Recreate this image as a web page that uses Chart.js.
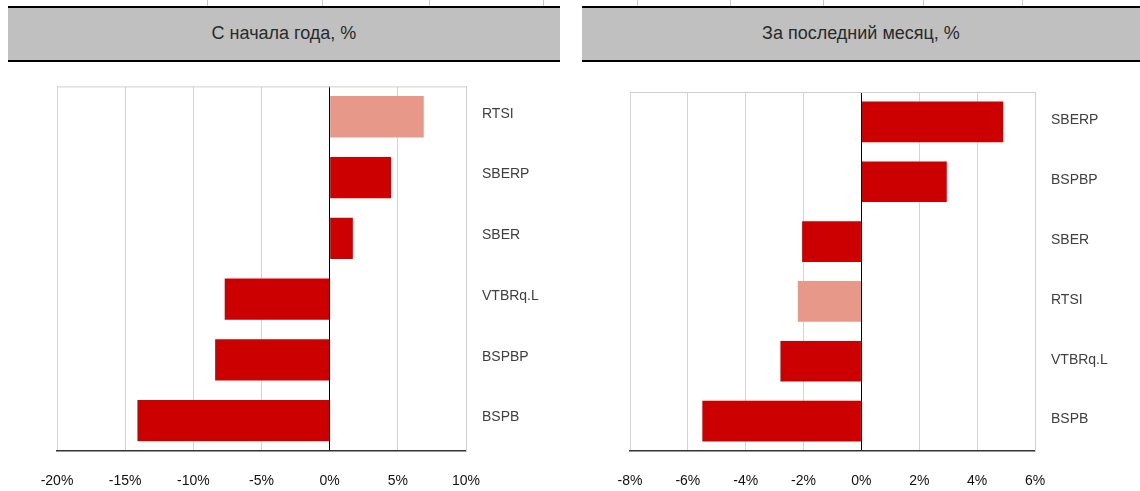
<!DOCTYPE html>
<html>
<head>
<meta charset="utf-8">
<script src="https://cdn.jsdelivr.net/npm/chart.js@4/dist/chart.umd.min.js"></script>
<style>
  body { margin: 0; background: #fff; width: 1140px; height: 491px; position: relative; overflow: hidden; font-family: "Liberation Sans", Arial, sans-serif; }
  .head { position: absolute; top: 6px; height: 52px; background: #c0c0c0; border-top: 2px solid #000; border-bottom: 2px solid #000;
          color: #2a2a2a; font-size: 18px; line-height: 50px; text-align: center; }
  .tick { position: absolute; top: 0; width: 1px; height: 6px; background: #c8c8c8; }
  .box { position: absolute; top: 62px; width: 570px; height: 429px; }
</style>
</head>
<body>
<div class="head" style="left:8px; width:552px;">С начала года, %</div>
<div class="head" style="left:582px; width:558px;">За последний месяц, %</div>
<div class="tick" style="left:207px"></div>
<div class="tick" style="left:322px"></div>
<div class="tick" style="left:429px"></div>
<div class="tick" style="left:543px"></div>
<div class="tick" style="left:637px"></div>
<div class="tick" style="left:730px"></div>
<div class="tick" style="left:823px"></div>
<div class="tick" style="left:923px"></div>
<div class="tick" style="left:1022px"></div>
<div class="box" style="left:0"><canvas id="ytd"></canvas></div>
<div class="box" style="left:570px"><canvas id="mtd"></canvas></div>
<script>
const ytdLabels = ["RTSI", "SBERP", "SBER", "VTBRq.L", "BSPBP", "BSPB"];
const ytdValues = [6.9, 4.5, 1.7, -7.7, -8.4, -14.1];
const ytdTicks = [-20, -15, -10, -5, 0, 5, 10];

const mtdLabels = ["SBERP", "BSPBP", "SBER", "RTSI", "VTBRq.L", "BSPB"];
const mtdValues = [4.9, 2.95, -2.05, -2.2, -2.8, -5.5];
const mtdTicks = [-8, -6, -4, -2, 0, 2, 4, 6];

const indexName = "RTSI";
const dark = "#cc0000";
const light = "#e89888";

// thin grey line on top of the plot area
const topBorder = {
  id: "topBorder",
  afterDraw(chart) {
    const { ctx, chartArea } = chart;
    ctx.save();
    ctx.strokeStyle = "#d0d0d0";
    ctx.lineWidth = 1;
    ctx.beginPath();
    ctx.moveTo(chartArea.left, chartArea.top + 0.5);
    ctx.lineTo(chartArea.right, chartArea.top + 0.5);
    ctx.stroke();
    ctx.restore();
  }
};

function makeChart(id, labels, values, ticks, padTop, padLeft, yWidth, lblShift) {
  const ctx = document.getElementById(id).getContext("2d");
  return new Chart(ctx, {
    type: "bar",
    data: {
      labels: labels,
      datasets: [{
        data: values,
        backgroundColor: labels.map(l => l === indexName ? light : dark),
        borderWidth: 0,
        categoryPercentage: 1,
        barPercentage: 0.68
      }]
    },
    options: {
      indexAxis: "y",
      responsive: true,
      maintainAspectRatio: false,
      animation: false,
      layout: { padding: { top: padTop, left: padLeft, right: 0, bottom: 0 } },
      plugins: { legend: { display: false }, tooltip: { enabled: false } },
      scales: {
        x: {
          min: ticks[0],
          max: ticks[ticks.length - 1],
          afterBuildTicks: axis => { axis.ticks = ticks.map(v => ({ value: v })); },
          afterFit: axis => { axis.height = 40; },
          grid: {
            drawTicks: false,
            color: c => c.tick && c.tick.value === 0 ? "#000" : "#d4d4d4"
          },
          border: { color: "#333", width: 1.5 },
          ticks: {
            padding: 22,
            color: "#111",
            font: { family: "Liberation Sans", size: 14 },
            callback: v => v + "%"
          }
        },
        y: {
          position: "right",
          afterFit: axis => { axis.width = yWidth; },
          grid: { display: false, drawTicks: false },
          border: { color: "#d0d0d0" },
          ticks: {
            padding: 16,
            labelOffset: lblShift,
            color: "#404040",
            font: { family: "Liberation Sans", size: 14 }
          }
        }
      }
    },
    plugins: [topBorder]
  });
}

makeChart("ytd", ytdLabels, ytdValues, ytdTicks, 24, 57, 104, -3);
makeChart("mtd", mtdLabels, mtdValues, mtdTicks, 30, 60, 105, -1.5);
</script>
</body>
</html>
